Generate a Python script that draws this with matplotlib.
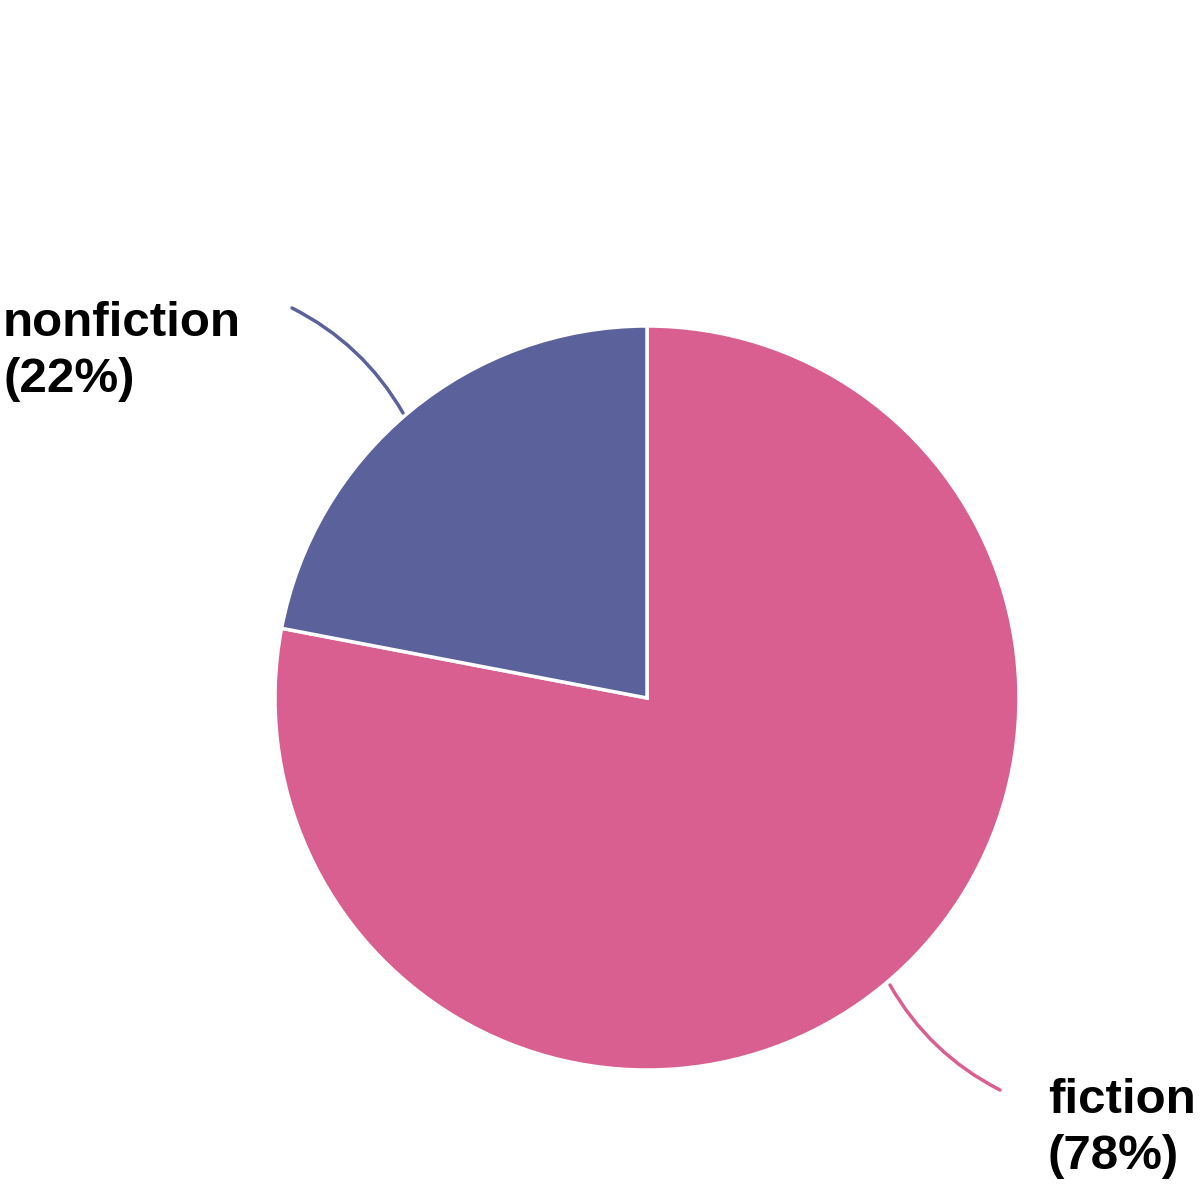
import matplotlib
matplotlib.use("Agg")
import matplotlib.pyplot as plt

categories = ["fiction", "nonfiction"]
values = [78, 22]
colors = ["#D95F91", "#5B629B"]

plt.rcParams['font.family'] = ['Liberation Sans', 'DejaVu Sans']

fig = plt.figure(figsize=(12, 12), dpi=100)
ax = fig.add_axes([0, 0, 1, 1])

cx, cy, r = 647, 502, 372
wedges, _ = ax.pie(values, colors=colors, startangle=90, counterclock=False,
                   center=(cx, cy), radius=r, frame=True,
                   wedgeprops=dict(edgecolor='white', linewidth=2.5))
ax.set_xlim(0, 1200)
ax.set_ylim(0, 1200)
ax.set_aspect('equal')
ax.axis('off')

# nonfiction label
ax.annotate("", xy=(403, 787), xytext=(292, 892),
            arrowprops=dict(arrowstyle='-', color=colors[1], lw=2.5,
                            connectionstyle='arc3,rad=-0.15', shrinkA=0, shrinkB=0))
ax.text(3, 899, f"{categories[1]}\n({values[1]}%)", fontsize=35.5, fontweight='bold',
        ha='left', va='top', linespacing=1.32)

# fiction label
ax.annotate("", xy=(890, 215), xytext=(1000, 110),
            arrowprops=dict(arrowstyle='-', color=colors[0], lw=2.5,
                            connectionstyle='arc3,rad=-0.15', shrinkA=0, shrinkB=0))
ax.text(1048, 122, f"{categories[0]}\n({values[0]}%)", fontsize=35.5, fontweight='bold',
        ha='left', va='top', linespacing=1.32)

fig.savefig("out.png", dpi=100, facecolor='white')
